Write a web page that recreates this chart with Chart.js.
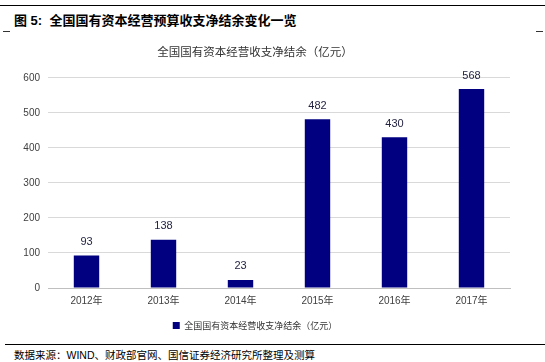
<!DOCTYPE html>
<html>
<head>
<meta charset="utf-8">
<script src="https://cdn.jsdelivr.net/npm/chart.js@4.4.1/dist/chart.umd.min.js"></script>
<style>
  body { margin: 0; width: 545px; height: 362px; background: #fff; position: relative; overflow: hidden;
         font-family: "Liberation Sans", "Noto Sans CJK SC", sans-serif; }
  .topline { position: absolute; left: 0; top: 5px; width: 545px; height: 0; border-top: 1px solid #000; }
  .head { position: absolute; left: 14px; top: 10px; font-size: 13px; font-weight: bold; color: #000; }
  .tick { position: absolute; top: 31px; height: 0; width: 7px; border-top: 1px solid #333; }
  .botline { position: absolute; left: 5px; top: 344px; width: 540px; height: 0; border-top: 1px solid #000; }
  .src { position: absolute; left: 14px; top: 347px; font-size: 10.5px; color: #000; }
  #wrap { position: absolute; left: 0; top: 38px; width: 545px; height: 302px; }
</style>
</head>
<body>
<div class="topline"></div>
<div class="head">图 5:&nbsp; 全国国有资本经营预算收支净结余变化一览</div>
<div class="tick" style="left:3px"></div>
<div class="tick" style="left:536px"></div>
<div id="wrap"><canvas id="chartCanvas"></canvas></div>
<div class="botline"></div>
<div class="src">数据来源：WIND、财政部官网、国信证券经济研究所整理及测算</div>
<script>
let years = ["2012年", "2013年", "2014年", "2015年", "2016年", "2017年"];
let surplus = [93, 138, 23, 482, 430, 568];
let yTicks = [0, 100, 200, 300, 400, 500, 600];
let seriesName = "全国国有资本经营收支净结余（亿元）";

// draws value above each bar
let barLabels = {
    id: "barLabels",
    afterDatasetsDraw(chart) {
        let ctx = chart.ctx;
        let meta = chart.getDatasetMeta(0);
        ctx.save();
        ctx.font = "11px 'Liberation Sans', sans-serif";
        ctx.fillStyle = "#1f1f3f";
        ctx.textAlign = "center";
        ctx.textBaseline = "bottom";
        meta.data.forEach((bar, i) => {
            ctx.fillText(chart.data.datasets[0].data[i], bar.x, bar.y - 8);
        });
        ctx.restore();
    }
};

let ctx = document.querySelector("#chartCanvas");

let graph = new Chart(ctx, {
    type: "bar",
    data: {
        labels: years,
        datasets: [
            {
                label: seriesName,
                data: surplus,
                backgroundColor: "#000080",
                borderWidth: 0,
                categoryPercentage: 1,
                barPercentage: 0.33
            }
        ]
    },
    options: {
        responsive: true,
        maintainAspectRatio: false,
        animation: false,
        layout: { padding: { left: 0, right: 35, top: 0, bottom: 0 } },
        scales: {
            x: {
                grid: { display: false, drawTicks: false },
                border: { color: "#bfbfbf" },
                ticks: { color: "#404040", font: { size: 10, family: "'Liberation Sans', 'Noto Sans CJK SC'" }, padding: 7 }
            },
            y: {
                min: 0,
                max: 600,
                afterBuildTicks: (scale) => { scale.ticks = yTicks.map(v => ({ value: v })); },
                afterFit: (scale) => { scale.width = 48; },
                grid: { color: "#d9d9d9", drawTicks: false },
                border: { display: false },
                ticks: { color: "#404040", font: { size: 10, family: "'Liberation Sans'" }, padding: 8 }
            }
        },
        plugins: {
            tooltip: { enabled: false },
            title: {
                display: true,
                text: seriesName,
                color: "#333",
                font: { size: 11.5, weight: "normal", family: "'Noto Sans CJK SC'" },
                padding: { top: 7, bottom: 19 }
            },
            legend: {
                display: true,
                position: "bottom",
                labels: {
                    color: "#333",
                    boxWidth: 7,
                    boxHeight: 7,
                    font: { size: 9, family: "'Noto Sans CJK SC'" },
                    padding: 7
                }
            }
        }
    },
    plugins: [barLabels]
});
</script>
</body>
</html>
